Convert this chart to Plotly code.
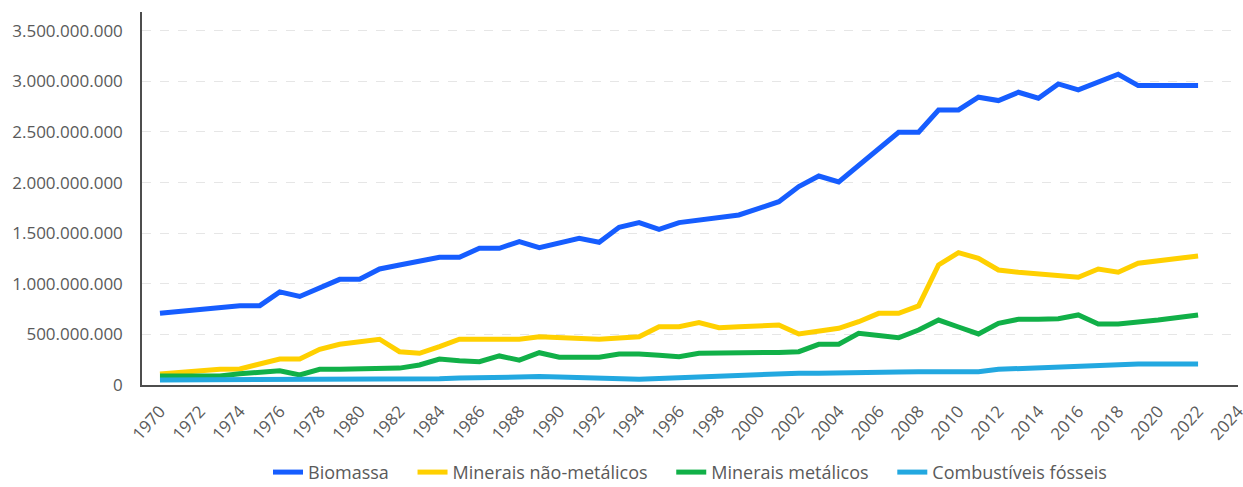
import plotly.graph_objects as go

years = list(range(1970, 2023))

# values in millions of tonnes
biomassa = [708, 727, 745, 765, 784, 784, 920, 875, 960, 1044,
            1044, 1146, 1185, 1223, 1262, 1262, 1351, 1351, 1416, 1357,
            1403, 1450, 1410, 1558, 1604, 1538, 1604, 1631, 1658, 1680,
            1745, 1811, 1960, 2065, 2006, 2170, 2330, 2497, 2497, 2717,
            2717, 2843, 2810, 2892, 2833, 2974, 2915, 2992, 3070, 2958,
            2958, 2958, 2958]

nao_metalicos = [109, 127, 145, 155, 158, 210, 257, 257, 353, 402,
                 425, 452, 329, 313, 380, 452, 452, 452, 452, 477,
                 470, 461, 452, 465, 477, 576, 576, 616, 566, 575,
                 585, 593, 504, 530, 560, 625, 708, 708, 781, 1186,
                 1307, 1252, 1136, 1113, 1095, 1077, 1064, 1146, 1114, 1203,
                 1227, 1251, 1275]

metalicos = [89, 89, 89, 89, 111, 130, 141, 99, 155, 155,
             155, 155, 167, 198, 257, 240, 230, 287, 245, 319,
             274, 274, 274, 306, 306, 293, 280, 313, 313, 313,
             313, 322, 329, 402, 402, 511, 490, 467, 543, 642,
             573, 504, 610, 649, 649, 654, 692, 603, 603, 617,
             642, 667, 692]

fosseis = [50, 50, 50, 50, 50, 50, 50, 50, 50, 50,
           50, 50, 50, 55, 62, 68, 74, 80, 85, 83,
           78, 72, 66, 62, 58, 65, 74, 83, 92, 100,
           108, 116, 116, 116, 116, 120, 124, 128, 131, 131,
           131, 131, 155, 163, 172, 180, 189, 198, 207, 207,
           207, 207, 207]

series_names = ["Biomassa", "Minerais não-metálicos", "Minerais metálicos", "Combustíveis fósseis"]
series_values = [biomassa, nao_metalicos, metalicos, fosseis]
series_colors = ["#165DFF", "#FFD000", "#11B048", "#23A8E0"]

NB = "\u00a0"
fig = go.Figure()
for i, (name, vals, col) in enumerate(zip(series_names, series_values, series_colors)):
    label = name + (NB * 4 if i < 3 else "")
    fig.add_trace(go.Scatter(
        x=years, y=[v * 1e6 for v in vals], mode="lines", name=label,
        line=dict(color=col, width=5),
    ))

fig.update_layout(
    width=1243, height=487,
    margin=dict(l=142, r=5, t=12, b=102, autoexpand=False),
    paper_bgcolor="white", plot_bgcolor="white",
    separators=",.",
    font=dict(family="Open Sans", size=17, color="#5a5a5a"),
    legend=dict(orientation="h", x=0.5, xanchor="center",
                yref="container", y=0.03, yanchor="middle", maxheight=120,
                font=dict(size=18, color="#5a5a5a")),
)
fig.update_xaxes(
    range=[1969.1, 2024.0], tickmode="linear", tick0=1970, dtick=2,
    tickangle=-48, showgrid=False, zeroline=False, automargin=False,
    showline=True, linecolor="#4d4d4d", linewidth=1.5,
    ticks="", ticklabelstandoff=8, ticklabeloverflow="allow",
)
fig.update_yaxes(
    range=[0, 3.685e9], tickmode="linear", tick0=0, dtick=5e8, automargin=False,
    tickformat=",.0f", showgrid=True, gridcolor="#e6e6e6", griddash="dash", gridwidth=1,
    zeroline=False, showline=True, linecolor="#4d4d4d", linewidth=1.5,
    ticks="", ticklabelstandoff=14,
)

fig.write_html("out.html", config={"displayModeBar": False},
               post_script="document.body.style.margin='0';")
